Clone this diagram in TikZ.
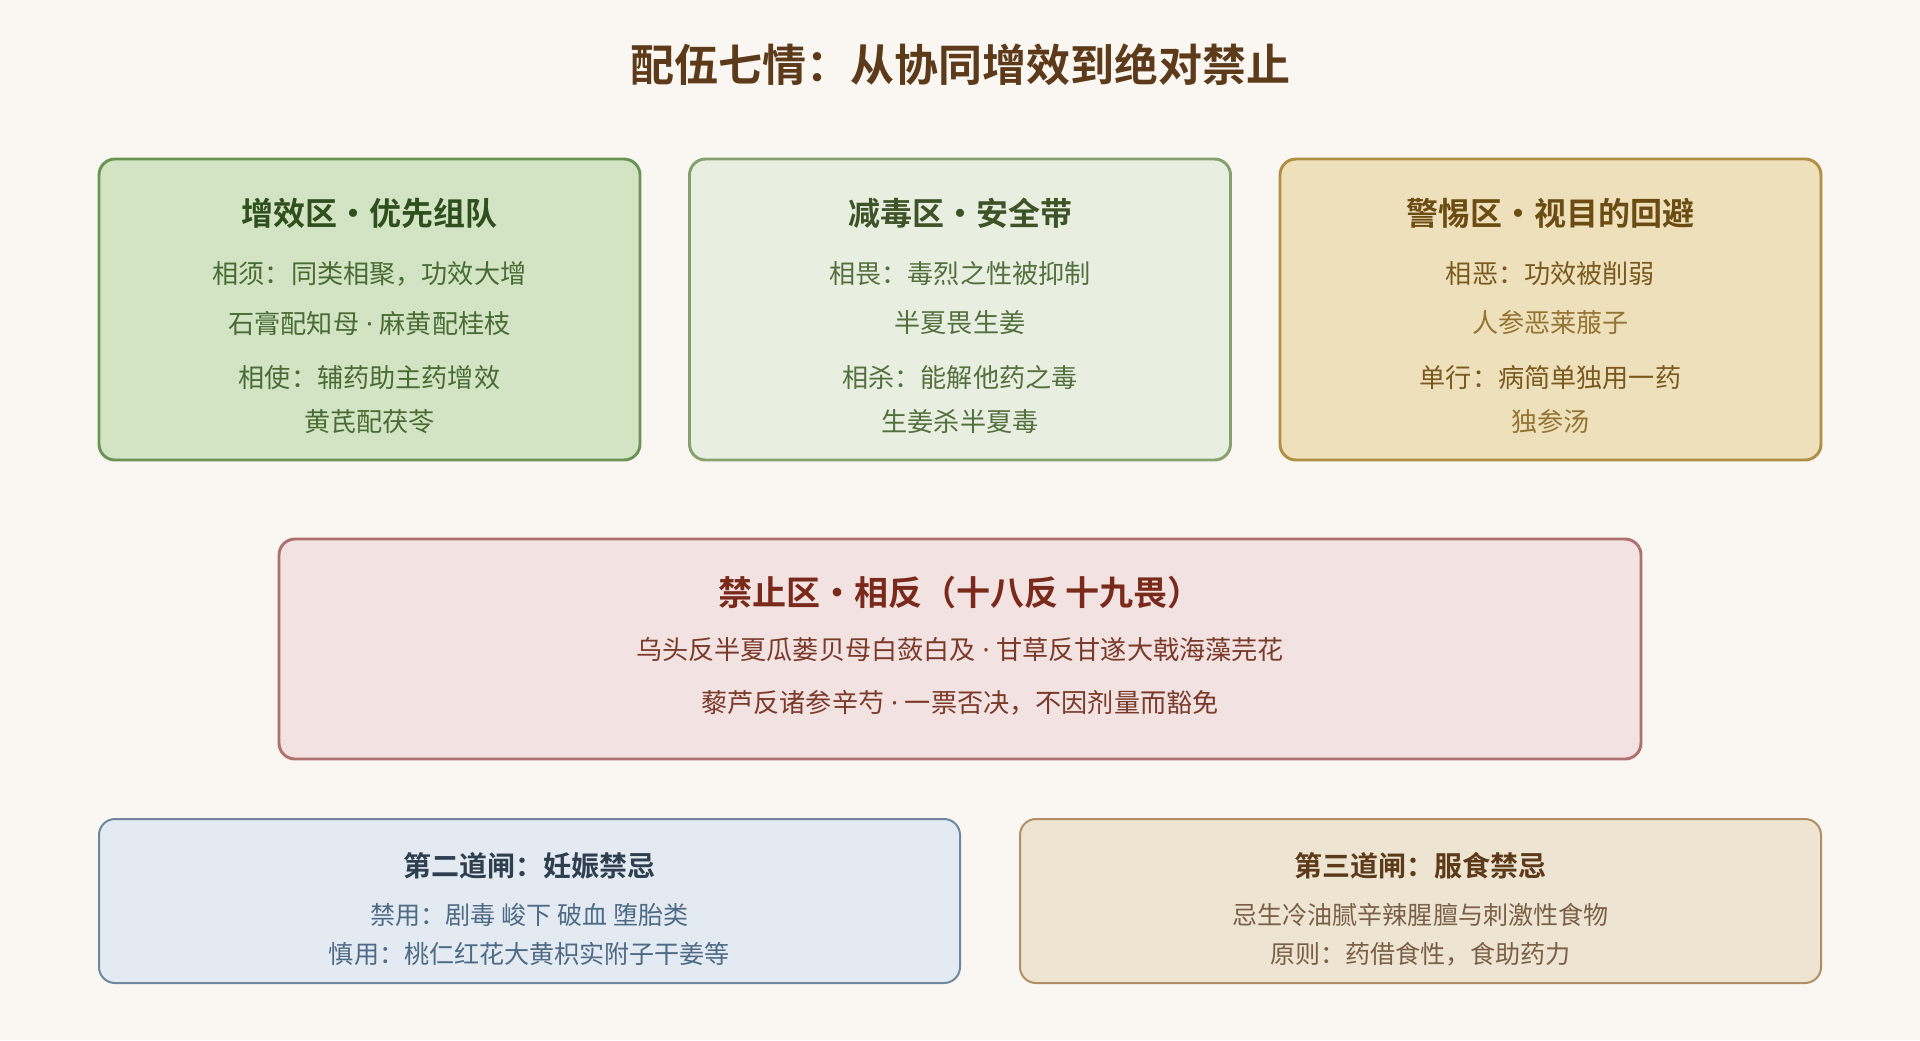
\documentclass[tikz,border=0pt]{standalone}
\usepackage{fontspec}
\setmainfont{Noto Sans CJK SC}
\newfontfamily\cjkb{Noto Sans CJK SC Bold}
\newfontfamily\latinsans{Noto Sans}
\newcommand{\mdotsep}{{\latinsans\ ·\ }}
\definecolor{bg}{HTML}{FAF7F2}
\definecolor{ttl}{HTML}{5C3A1A}
\definecolor{gAfill}{HTML}{D2E4C4}\definecolor{gAdraw}{HTML}{6A9455}\definecolor{gAt}{HTML}{2F4F1F}\definecolor{gAb}{HTML}{4A6B35}
\definecolor{gBfill}{HTML}{E8EFE0}\definecolor{gBdraw}{HTML}{86A070}\definecolor{gBt}{HTML}{3F5329}\definecolor{gBb}{HTML}{55703F}
\definecolor{yfill}{HTML}{EFE0BC}\definecolor{ydraw}{HTML}{B08F45}\definecolor{yt}{HTML}{6B4C12}\definecolor{yb}{HTML}{7A5A20}\definecolor{yl}{HTML}{957535}
\definecolor{rfill}{HTML}{F2E2E2}\definecolor{rdraw}{HTML}{B07070}\definecolor{rt}{HTML}{7A2A1A}\definecolor{rb}{HTML}{7A3A2A}
\definecolor{bfill}{HTML}{E3EAF1}\definecolor{bdraw}{HTML}{6F88A0}\definecolor{bt}{HTML}{2F3F50}\definecolor{bb}{HTML}{4F6A85}
\definecolor{tfill}{HTML}{EEE4D2}\definecolor{tdraw}{HTML}{B08F65}\definecolor{tt}{HTML}{5C3A1A}\definecolor{tb}{HTML}{7A6048}
\begin{document}
\begin{tikzpicture}[x=0.75pt,y=-0.75pt,
  zone/.style={rounded corners=12pt,line width=2.2pt,inner sep=0pt},
  lowzone/.style={rounded corners=12pt,line width=1.5pt,inner sep=0pt},
  ztitle/.style={font=\cjkb\fontsize{24}{28}\selectfont,inner sep=0pt,anchor=center},
  zbody/.style={font=\fontsize{19.6}{24}\selectfont,inner sep=0pt,anchor=center},
  ltitle/.style={font=\cjkb\fontsize{21}{25}\selectfont,inner sep=0pt,anchor=center},
  lbody/.style={font=\fontsize{18.8}{23}\selectfont,inner sep=0pt,anchor=center}]
\path[fill=bg,use as bounding box] (0,0) rectangle (1920,1040);
\node[font=\cjkb\fontsize{33}{38}\selectfont,text=ttl,inner sep=0pt] (title) at (960,65) {配伍七情：从协同增效到绝对禁止};
% box 1
\node[zone,fill=gAfill,draw=gAdraw,minimum width=405.75pt,minimum height=225.75pt] (z1) at (369.5,309.5) {};
\node[ztitle,text=gAt] (z1t) at (369.5,213) {增效区·优先组队};
\node[zbody,text=gAb] (z1a) at (369.5,274) {相须：同类相聚，功效大增};
\node[zbody,text=gAb] (z1b) at (369.5,323) {石膏配知母\mdotsep 麻黄配桂枝};
\node[zbody,text=gAb] (z1c) at (369.5,378) {相使：辅药助主药增效};
\node[zbody,text=gAb] (z1d) at (369.5,422) {黄芪配茯苓};
% box 2
\node[zone,fill=gBfill,draw=gBdraw,minimum width=405.75pt,minimum height=225.75pt] (z2) at (960,309.5) {};
\node[ztitle,text=gBt] (z2t) at (960,213) {减毒区·安全带};
\node[zbody,text=gBb] (z2a) at (960,274) {相畏：毒烈之性被抑制};
\node[zbody,text=gBb] (z2b) at (960,323) {半夏畏生姜};
\node[zbody,text=gBb] (z2c) at (960,378) {相杀：能解他药之毒};
\node[zbody,text=gBb] (z2d) at (960,422) {生姜杀半夏毒};
% box 3
\node[zone,fill=yfill,draw=ydraw,minimum width=405.75pt,minimum height=225.75pt] (z3) at (1550.5,309.5) {};
\node[ztitle,text=yt] (z3t) at (1550.5,213) {警惕区·视目的回避};
\node[zbody,text=yb] (z3a) at (1550.5,274) {相恶：功效被削弱};
\node[zbody,text=yl] (z3b) at (1550.5,323) {人参恶莱菔子};
\node[zbody,text=yb] (z3c) at (1550.5,378) {单行：病简单独用一药};
\node[zbody,text=yl] (z3d) at (1550.5,422) {独参汤};
% box 4
\node[zone,fill=rfill,draw=rdraw,minimum width=1021.5pt,minimum height=165pt] (z4) at (960,649) {};
\node[ztitle,text=rt,font=\cjkb\fontsize{25.5}{30}\selectfont] (z4t) at (960,593) {禁止区·相反（十八反 十九畏）};
\node[zbody,text=rb] (z4a) at (960,650) {乌头反半夏瓜蒌贝母白蔹白及\mdotsep 甘草反甘遂大戟海藻芫花};
\node[zbody,text=rb] (z4b) at (960,703) {藜芦反诸参辛芍\mdotsep 一票否决，不因剂量而豁免};
% box 5
\node[lowzone,fill=bfill,draw=bdraw,minimum width=645.75pt,minimum height=123pt] (z5) at (529.5,901) {};
\node[ltitle,text=bt] (z5t) at (529.5,866) {第二道闸：妊娠禁忌};
\node[lbody,text=bb] (z5a) at (529.5,915) {禁用：剧毒 峻下 破血 堕胎类};
\node[lbody,text=bb] (z5b) at (529.5,954) {慎用：桃仁红花大黄枳实附子干姜等};
% box 6
\node[lowzone,fill=tfill,draw=tdraw,minimum width=600.75pt,minimum height=123pt] (z6) at (1420.5,901) {};
\node[ltitle,text=tt] (z6t) at (1420.5,866) {第三道闸：服食禁忌};
\node[lbody,text=tb] (z6a) at (1420.5,915) {忌生冷油腻辛辣腥膻与刺激性食物};
\node[lbody,text=tb] (z6b) at (1420.5,954) {原则：药借食性，食助药力};
\end{tikzpicture}
\end{document}
